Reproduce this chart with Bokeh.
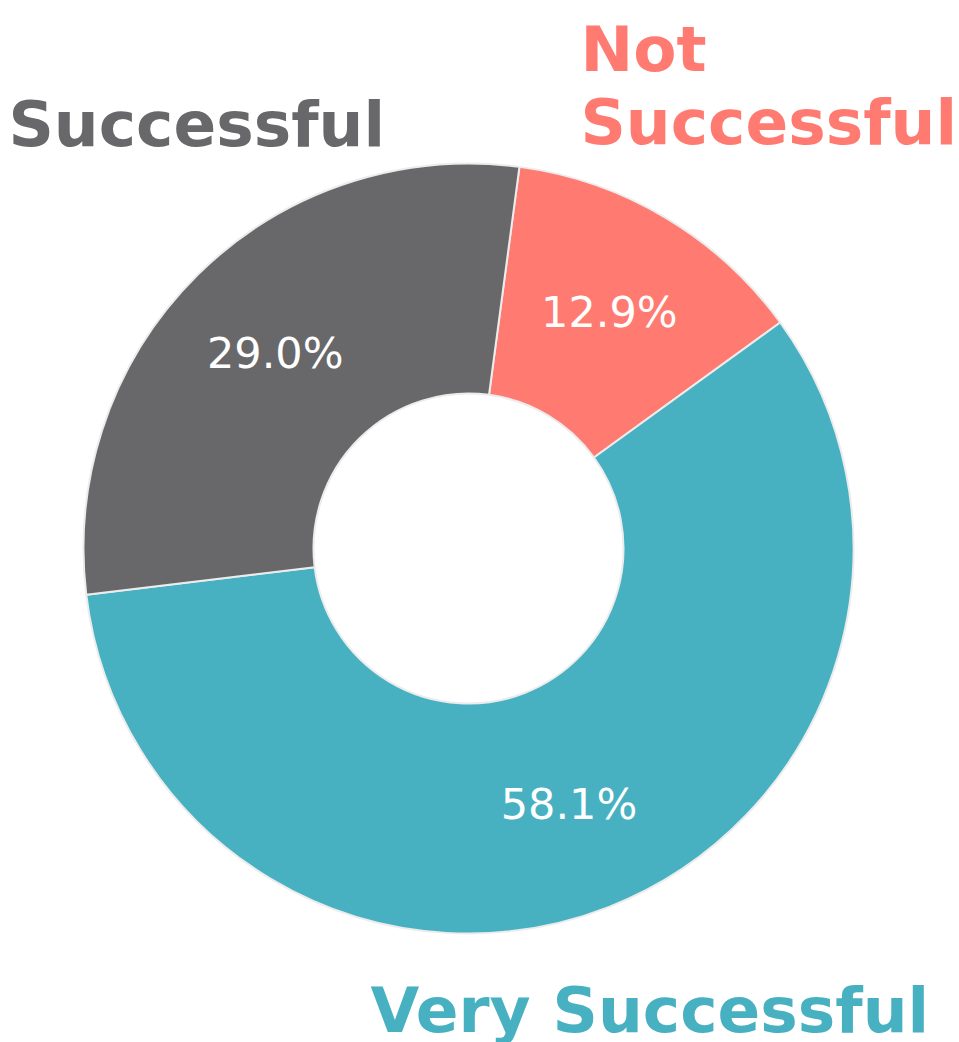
import math
from bokeh.plotting import figure
from bokeh.models import Range1d, ColumnDataSource, Label
from bokeh.core.properties import value
from bokeh.embed import file_html
from bokeh.resources import INLINE

# ---- data ----
categories = ["Not Successful", "Very Successful", "Successful"]
counts = [4, 18, 9]
colors = ["#ff7b72", "#48b1c1", "#68686a"]

# ---- layout (pixels) ----
W, H = 959, 1042
CX, CY = 468, H - 548
R_OUT, R_IN = 385, 155
ROTATION = math.radians(82.4)   # start boundary, going clockwise

total = sum(counts)
fracs = [c / total for c in counts]
starts, ends, mids, labels = [], [], [], []
cum = 0.0
for f in fracs:
    a0 = ROTATION - cum * 2 * math.pi
    cum += f
    a1 = ROTATION - cum * 2 * math.pi
    starts.append(a1)
    ends.append(a0)
    mids.append((a0 + a1) / 2)
    labels.append(f"{f*100:.1f}%")

r_lab = (R_IN + R_OUT) / 2 + 5
src = ColumnDataSource(dict(
    cat=categories, start=starts, end=ends, color=colors,
    lx=[CX + r_lab * math.cos(m) for m in mids],
    ly=[CY + r_lab * math.sin(m) for m in mids],
    lab=labels,
))

p = figure(width=W, height=H, x_range=Range1d(0, W), y_range=Range1d(0, H),
           output_backend="svg", toolbar_location=None, min_border=0)
p.axis.visible = False
p.grid.visible = False
p.outline_line_color = None
p.background_fill_color = "white"

p.annular_wedge(x=CX, y=CY, inner_radius=R_IN, outer_radius=R_OUT,
                start_angle="start", end_angle="end", direction="anticlock",
                fill_color="color", line_color="#ececec", line_width=2,
                source=src)

p.text(x="lx", y="ly", text="lab", source=src, text_color="white",
       text_font=value("DejaVu Sans"), text_font_size="43px",
       text_align="center", text_baseline="middle")

font = "DejaVu Sans"
def lab(text, x, y_base, color):
    p.add_layout(Label(x=x, y=H - y_base + 23, text=text, text_color=color,
                       text_font=font, text_font_size="63px",
                       text_font_style="bold", text_baseline="alphabetic",
                       text_align="left"))

lab(categories[2], 8, 147, colors[2])
lab("Not", 580, 72, colors[0])
lab("Successful", 580, 145, colors[0])
lab(categories[1], 370, 1033, colors[1])

open("out.html", "w").write(file_html(p, INLINE))
